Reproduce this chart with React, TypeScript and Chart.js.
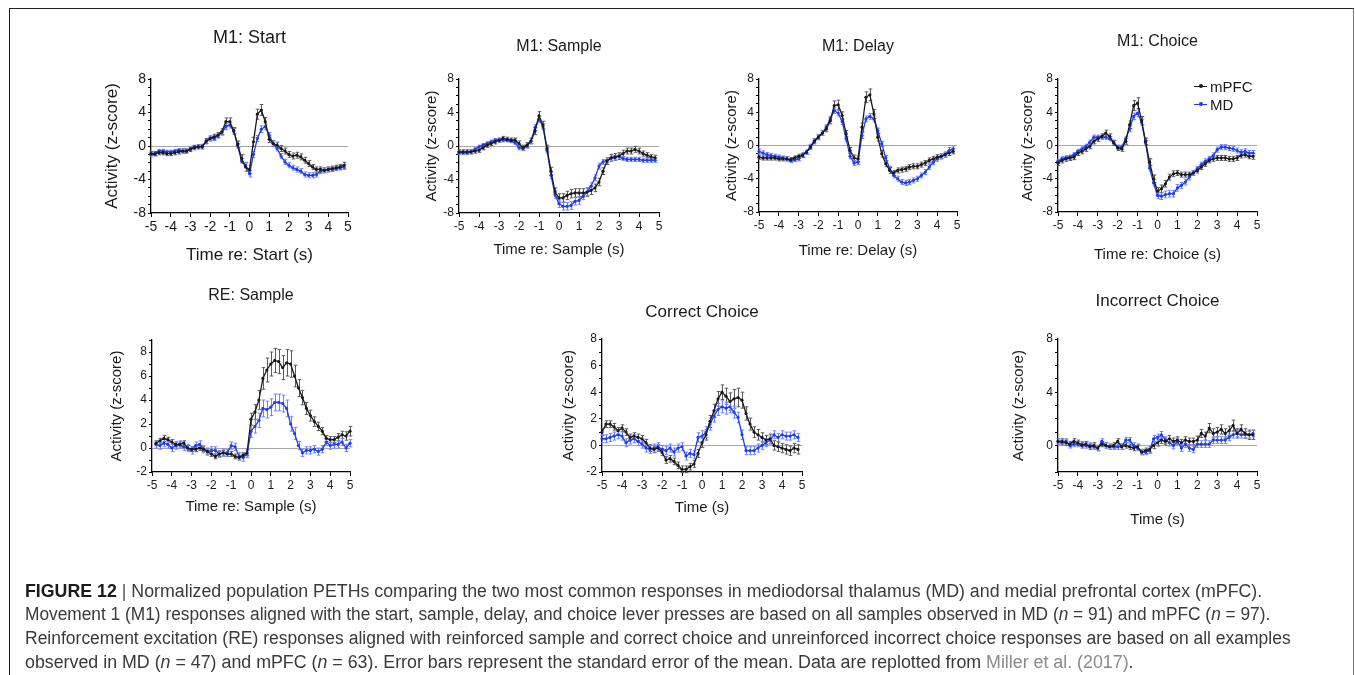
import React, { useEffect, useLayoutEffect, useRef } from "react";
import { Chart, registerables } from "chart.js";
Chart.register(...registerables);

const FONT = "'Liberation Sans', Arial, Helvetica, sans-serif";
const W = 1355;
const H = 675;
const MPFC_COLOR = "#1a1a1a";
const MD_COLOR = "#1f3cf2";
const MPFC_ERR = "#5a5a5a";
const MD_ERR = "#6b84ff";

// ---- time bins (s) ----
const TIME = [-5, -4.8, -4.6, -4.4, -4.2, -4, -3.8, -3.6, -3.4, -3.2, -3, -2.8, -2.6, -2.4, -2.2, -2, -1.8, -1.6, -1.4, -1.2, -1, -0.8, -0.6, -0.4, -0.2, 0, 0.2, 0.4, 0.6, 0.8, 1, 1.2, 1.4, 1.6, 1.8, 2, 2.2, 2.4, 2.6, 2.8, 3, 3.2, 3.4, 3.6, 3.8, 4, 4.2, 4.4, 4.6, 4.8];
const TIME_RE = [-4.8, -4.6, -4.4, -4.2, -4, -3.8, -3.6, -3.4, -3.2, -3, -2.8, -2.6, -2.4, -2.2, -2, -1.8, -1.6, -1.4, -1.2, -1, -0.8, -0.6, -0.4, -0.2, 0, 0.2, 0.4, 0.6, 0.8, 1, 1.2, 1.4, 1.6, 1.8, 2, 2.2, 2.4, 2.6, 2.8, 3, 3.2, 3.4, 3.6, 3.8, 4, 4.2, 4.4, 4.6, 4.8, 5];

// ---- M1: Start ----
const START_MPFC = [-0.9, -0.9, -0.8, -0.8, -0.9, -0.9, -0.8, -0.7, -0.6, -0.6, -0.4, -0.2, -0.1, -0.1, 0.6, 0.9, 1.1, 1.3, 1.7, 2.9, 2.9, 1.8, 0.2, -1.5, -2.5, -2.8, 0.5, 3.8, 4.3, 2.9, 0.8, 0.3, 0.1, -0.3, -0.6, -1.0, -1.2, -1.1, -1.3, -1.7, -2.1, -2.5, -2.8, -2.8, -2.9, -2.8, -2.7, -2.6, -2.5, -2.3];
const START_MD = [-1.0, -1.0, -0.6, -0.6, -0.7, -0.7, -0.6, -0.5, -0.6, -0.6, -0.3, -0.1, -0.1, 0.0, 0.5, 0.9, 0.9, 1.2, 1.6, 2.3, 2.5, 1.8, 0.0, -1.8, -2.3, -3.3, -1.0, 0.9, 2.0, 2.3, 1.3, 0.3, -0.3, -1.2, -1.9, -2.3, -2.6, -2.8, -3.0, -3.4, -3.5, -3.5, -3.4, -3.0, -2.9, -2.8, -2.8, -2.7, -2.6, -2.5];
const START_MPFC_SEM = [0.25, 0.25, 0.25, 0.25, 0.25, 0.25, 0.25, 0.25, 0.25, 0.25, 0.25, 0.25, 0.25, 0.25, 0.3, 0.3, 0.3, 0.3, 0.35, 0.45, 0.45, 0.4, 0.4, 0.45, 0.5, 0.5, 0.55, 0.6, 0.65, 0.5, 0.4, 0.35, 0.35, 0.35, 0.35, 0.35, 0.35, 0.35, 0.35, 0.35, 0.35, 0.3, 0.3, 0.3, 0.3, 0.3, 0.3, 0.3, 0.3, 0.35];
const START_MD_SEM = [0.2, 0.2, 0.2, 0.2, 0.2, 0.2, 0.2, 0.2, 0.2, 0.2, 0.2, 0.2, 0.2, 0.2, 0.25, 0.25, 0.25, 0.25, 0.3, 0.35, 0.35, 0.3, 0.3, 0.3, 0.35, 0.4, 0.35, 0.35, 0.4, 0.35, 0.3, 0.3, 0.3, 0.3, 0.3, 0.3, 0.3, 0.3, 0.3, 0.3, 0.3, 0.3, 0.3, 0.3, 0.25, 0.25, 0.25, 0.25, 0.25, 0.3];

// ---- M1: Sample ----
const SAMPLE_MPFC = [-0.7, -0.7, -0.7, -0.7, -0.6, -0.5, -0.2, 0.1, 0.3, 0.5, 0.7, 0.9, 0.8, 0.7, 0.7, 0.3, -0.2, 0.1, 0.6, 1.8, 3.6, 2.5, -0.3, -3.0, -5.5, -6.2, -6.2, -5.9, -5.7, -5.6, -5.6, -5.6, -5.5, -5.3, -5.0, -4.3, -3.0, -1.8, -1.4, -1.3, -1.2, -0.9, -0.6, -0.6, -0.4, -0.6, -0.9, -1.1, -1.3, -1.4];
const SAMPLE_MD = [-0.8, -0.8, -0.8, -0.7, -0.4, -0.1, 0.1, 0.3, 0.5, 0.7, 0.7, 0.7, 0.7, 0.6, 0.4, -0.2, -0.3, 0.0, 0.6, 2.2, 3.2, 2.3, -0.5, -3.5, -5.8, -6.9, -7.2, -7.2, -7.1, -6.6, -6.5, -6.0, -5.5, -4.8, -3.8, -2.4, -1.9, -1.7, -1.5, -1.4, -1.2, -1.5, -1.6, -1.6, -1.6, -1.6, -1.7, -1.7, -1.7, -1.7];
const SAMPLE_MPFC_SEM = [0.25, 0.25, 0.25, 0.25, 0.25, 0.25, 0.25, 0.25, 0.25, 0.25, 0.25, 0.25, 0.25, 0.25, 0.25, 0.3, 0.3, 0.3, 0.35, 0.45, 0.5, 0.45, 0.4, 0.45, 0.5, 0.5, 0.5, 0.5, 0.5, 0.5, 0.5, 0.5, 0.5, 0.5, 0.45, 0.45, 0.4, 0.4, 0.4, 0.4, 0.4, 0.4, 0.35, 0.35, 0.35, 0.35, 0.3, 0.3, 0.3, 0.3];
const SAMPLE_MD_SEM = [0.2, 0.2, 0.2, 0.2, 0.2, 0.2, 0.2, 0.2, 0.2, 0.2, 0.2, 0.2, 0.2, 0.2, 0.2, 0.25, 0.25, 0.25, 0.3, 0.35, 0.35, 0.35, 0.35, 0.4, 0.45, 0.45, 0.45, 0.45, 0.45, 0.45, 0.45, 0.4, 0.4, 0.4, 0.35, 0.35, 0.3, 0.3, 0.3, 0.25, 0.25, 0.25, 0.25, 0.25, 0.25, 0.25, 0.25, 0.25, 0.25, 0.25];

// ---- M1: Delay ----
const DELAY_MPFC = [-1.4, -1.5, -1.5, -1.5, -1.5, -1.6, -1.6, -1.6, -1.7, -1.5, -1.3, -1.2, -0.8, -0.2, 0.5, 1.0, 1.5, 2.0, 3.0, 4.8, 4.9, 3.6, 1.4, -0.6, -1.5, -1.6, 2.2, 5.8, 6.1, 3.8, 1.0, -1.0, -2.2, -3.0, -3.3, -3.0, -2.9, -2.8, -2.6, -2.5, -2.5, -2.3, -2.1, -1.8, -1.6, -1.4, -1.3, -1.1, -0.9, -0.7];
const DELAY_MD = [-0.7, -0.9, -1.1, -1.2, -1.3, -1.4, -1.5, -1.6, -1.8, -1.7, -1.6, -1.1, -0.8, -0.1, 0.6, 1.0, 1.5, 2.2, 3.2, 4.2, 3.9, 2.9, 0.8, -1.3, -2.1, -2.0, 1.2, 3.2, 3.5, 3.2, 1.8, 0.2, -1.5, -2.8, -3.6, -4.0, -4.4, -4.5, -4.4, -4.2, -4.0, -3.6, -3.2, -2.6, -2.0, -1.6, -1.3, -1.1, -0.6, -0.4];
const DELAY_MPFC_SEM = [0.25, 0.25, 0.25, 0.25, 0.25, 0.25, 0.25, 0.25, 0.25, 0.25, 0.25, 0.25, 0.25, 0.25, 0.3, 0.3, 0.3, 0.35, 0.4, 0.55, 0.55, 0.45, 0.4, 0.35, 0.35, 0.35, 0.5, 0.65, 0.7, 0.55, 0.45, 0.4, 0.35, 0.35, 0.3, 0.3, 0.3, 0.3, 0.3, 0.3, 0.3, 0.3, 0.3, 0.3, 0.3, 0.3, 0.3, 0.3, 0.3, 0.3];
const DELAY_MD_SEM = [0.3, 0.25, 0.25, 0.25, 0.25, 0.25, 0.25, 0.25, 0.25, 0.25, 0.25, 0.25, 0.25, 0.25, 0.25, 0.25, 0.3, 0.3, 0.3, 0.35, 0.35, 0.35, 0.3, 0.3, 0.3, 0.3, 0.35, 0.35, 0.35, 0.35, 0.3, 0.3, 0.3, 0.3, 0.3, 0.3, 0.3, 0.3, 0.3, 0.3, 0.3, 0.3, 0.3, 0.3, 0.3, 0.3, 0.3, 0.3, 0.35, 0.35];

// ---- M1: Choice ----
const CHOICE_MPFC = [-2.1, -1.8, -1.6, -1.5, -1.4, -0.9, -0.7, -0.4, -0.1, 0.5, 0.8, 1.1, 1.5, 1.1, 0.3, -0.3, -0.4, 0.5, 2.5, 4.8, 5.1, 3.0, 0.5, -2.0, -4.0, -5.5, -5.2, -4.6, -3.8, -3.4, -3.3, -3.5, -3.5, -3.5, -3.3, -3.0, -2.6, -2.2, -1.8, -1.6, -1.5, -1.5, -1.5, -1.6, -1.6, -1.5, -1.2, -1.1, -1.3, -1.3];
const CHOICE_MD = [-1.9, -1.6, -1.5, -1.4, -1.1, -0.7, -0.4, -0.1, 0.4, 1.0, 1.0, 1.0, 1.0, 0.8, 0.4, -0.2, -0.2, 0.8, 2.0, 3.5, 3.9, 2.8, 0.3, -2.7, -4.5, -6.0, -6.1, -5.9, -5.8, -5.8, -5.1, -4.8, -4.4, -3.8, -3.3, -2.8, -2.3, -1.9, -1.6, -1.2, -0.5, -0.2, -0.2, -0.3, -0.4, -0.6, -0.8, -0.7, -0.9, -0.9];
const CHOICE_MPFC_SEM = [0.3, 0.3, 0.3, 0.3, 0.3, 0.3, 0.3, 0.3, 0.3, 0.3, 0.3, 0.3, 0.35, 0.3, 0.3, 0.3, 0.3, 0.35, 0.45, 0.6, 0.65, 0.5, 0.4, 0.4, 0.45, 0.45, 0.45, 0.4, 0.35, 0.35, 0.3, 0.3, 0.3, 0.3, 0.3, 0.3, 0.3, 0.3, 0.3, 0.3, 0.3, 0.3, 0.3, 0.3, 0.3, 0.3, 0.3, 0.3, 0.3, 0.35];
const CHOICE_MD_SEM = [0.25, 0.25, 0.25, 0.25, 0.25, 0.25, 0.25, 0.25, 0.25, 0.25, 0.25, 0.25, 0.25, 0.25, 0.25, 0.25, 0.25, 0.3, 0.35, 0.4, 0.4, 0.35, 0.3, 0.35, 0.4, 0.4, 0.4, 0.4, 0.4, 0.4, 0.4, 0.35, 0.35, 0.35, 0.3, 0.3, 0.3, 0.3, 0.3, 0.3, 0.3, 0.3, 0.3, 0.3, 0.3, 0.3, 0.3, 0.3, 0.3, 0.3];

// ---- RE: Sample ----
const RE_MPFC = [0.4, 0.6, 0.8, 0.7, 0.5, 0.3, 0.3, 0.4, 0.0, -0.1, -0.1, 0.0, -0.1, -0.3, -0.5, -0.7, -0.5, -0.4, -0.5, -0.5, -0.7, -0.8, -0.6, -0.4, 2.4, 3.0, 4.0, 5.8, 6.5, 7.0, 7.3, 7.2, 6.7, 7.1, 7.0, 6.0, 5.0, 4.2, 3.3, 2.7, 2.2, 1.8, 1.4, 0.8, 0.7, 0.7, 0.9, 1.1, 1.0, 1.4];
const RE_MD = [0.3, 0.2, 0.4, 0.3, 0.0, 0.2, 0.3, 0.1, 0.0, -0.2, 0.2, 0.3, -0.1, -0.3, -0.2, -0.2, -0.5, -0.4, -0.4, 0.2, 0.1, -0.7, -0.8, -0.5, 1.4, 1.8, 2.3, 3.3, 3.2, 3.4, 3.8, 3.8, 3.7, 3.3, 2.0, 1.2, 0.2, -0.4, -0.2, -0.2, -0.1, -0.3, -0.1, 0.5, 0.2, 0.3, 0.3, 0.5, 0.0, 0.4];
const RE_MPFC_SEM = [0.2, 0.2, 0.25, 0.2, 0.2, 0.2, 0.2, 0.2, 0.2, 0.2, 0.2, 0.2, 0.2, 0.2, 0.2, 0.2, 0.2, 0.2, 0.2, 0.2, 0.2, 0.2, 0.2, 0.25, 0.5, 0.6, 0.8, 0.9, 1.0, 1.0, 1.0, 1.0, 1.0, 1.1, 1.1, 0.9, 0.7, 0.6, 0.5, 0.45, 0.4, 0.35, 0.3, 0.25, 0.25, 0.25, 0.3, 0.3, 0.35, 0.4];
const RE_MD_SEM = [0.3, 0.3, 0.3, 0.3, 0.3, 0.3, 0.3, 0.3, 0.3, 0.3, 0.3, 0.3, 0.3, 0.3, 0.3, 0.3, 0.3, 0.3, 0.3, 0.3, 0.3, 0.3, 0.3, 0.3, 0.5, 0.55, 0.6, 0.7, 0.7, 0.7, 0.7, 0.7, 0.7, 0.7, 0.6, 0.5, 0.35, 0.3, 0.3, 0.3, 0.3, 0.3, 0.3, 0.3, 0.3, 0.3, 0.3, 0.3, 0.3, 0.3];

// ---- Correct Choice ----
const CORRECT_MPFC = [1.0, 1.6, 1.6, 1.4, 1.1, 1.3, 1.0, 0.6, 0.7, 0.6, 0.5, 0.2, -0.2, -0.3, -0.2, -0.5, -1.1, -1.0, -1.2, -1.5, -1.8, -1.8, -1.6, -1.4, -0.6, 0.2, 0.8, 1.8, 2.6, 3.5, 4.0, 3.7, 3.3, 3.5, 3.6, 3.4, 2.4, 1.6, 1.0, 0.8, 0.6, 0.4, 0.5, 0.0, -0.1, -0.2, -0.3, -0.4, -0.2, -0.3];
const CORRECT_MD = [0.5, 0.5, 0.6, 0.7, 0.8, 0.7, 0.2, 0.4, 0.5, 0.3, 0.1, -0.2, -0.3, -0.2, -0.1, -0.3, -0.4, -0.2, -0.5, -0.2, -0.1, -0.8, -0.6, -0.7, 0.6, 0.7, 1.0, 1.6, 2.2, 2.7, 2.9, 2.8, 2.9, 2.5, 2.1, 0.8, -0.4, -0.4, -0.4, -0.2, 0.0, 0.2, 0.4, 0.8, 0.6, 0.8, 0.7, 0.7, 0.8, 0.6];
const CORRECT_MPFC_SEM = [0.25, 0.25, 0.25, 0.25, 0.25, 0.25, 0.25, 0.25, 0.25, 0.25, 0.25, 0.25, 0.25, 0.25, 0.25, 0.25, 0.25, 0.25, 0.25, 0.25, 0.25, 0.25, 0.25, 0.25, 0.3, 0.35, 0.4, 0.45, 0.5, 0.55, 0.55, 0.6, 0.65, 0.7, 0.7, 0.6, 0.5, 0.45, 0.4, 0.4, 0.35, 0.35, 0.35, 0.35, 0.35, 0.35, 0.35, 0.35, 0.35, 0.35];
const CORRECT_MD_SEM = [0.3, 0.3, 0.3, 0.3, 0.3, 0.3, 0.3, 0.3, 0.3, 0.3, 0.3, 0.3, 0.3, 0.3, 0.3, 0.3, 0.3, 0.3, 0.3, 0.3, 0.3, 0.3, 0.3, 0.3, 0.35, 0.4, 0.4, 0.45, 0.45, 0.45, 0.45, 0.45, 0.45, 0.45, 0.4, 0.35, 0.3, 0.3, 0.3, 0.3, 0.3, 0.3, 0.3, 0.3, 0.3, 0.3, 0.3, 0.3, 0.3, 0.3];

// ---- Incorrect Choice ----
const INCORRECT_MPFC = [0.3, 0.3, 0.2, 0.1, 0.3, 0.2, 0.0, 0.1, -0.1, 0.0, -0.2, 0.1, 0.0, -0.1, 0.0, 0.3, -0.1, 0.0, -0.1, -0.2, -0.1, -0.5, -0.4, -0.3, 0.0, 0.2, 0.4, 0.3, 0.5, 0.3, 0.4, 0.2, 0.4, 0.3, 0.3, 0.4, 0.9, 0.7, 1.3, 0.9, 1.0, 1.2, 0.9, 1.1, 1.5, 0.9, 1.2, 0.9, 0.8, 0.8];
const INCORRECT_MD = [0.3, 0.2, 0.3, 0.0, 0.1, 0.1, 0.1, 0.0, 0.0, -0.1, -0.2, 0.3, 0.0, -0.1, -0.1, -0.1, -0.1, 0.4, 0.4, 0.0, -0.2, -0.5, -0.5, -0.4, 0.5, 0.6, 0.8, 0.4, 0.2, 0.0, 0.3, -0.2, 0.1, -0.2, -0.3, 0.1, 0.1, 0.1, 0.1, 0.4, 0.4, 0.4, 0.4, 0.6, 0.8, 0.9, 0.8, 0.8, 0.8, 0.9];
const INCORRECT_MPFC_SEM = [0.2, 0.2, 0.2, 0.2, 0.2, 0.2, 0.2, 0.2, 0.2, 0.2, 0.2, 0.2, 0.2, 0.2, 0.2, 0.2, 0.2, 0.2, 0.2, 0.2, 0.2, 0.2, 0.2, 0.2, 0.25, 0.25, 0.25, 0.25, 0.25, 0.25, 0.25, 0.25, 0.25, 0.25, 0.25, 0.3, 0.3, 0.3, 0.35, 0.35, 0.35, 0.35, 0.35, 0.35, 0.4, 0.35, 0.35, 0.35, 0.35, 0.35];
const INCORRECT_MD_SEM = [0.2, 0.2, 0.2, 0.2, 0.2, 0.2, 0.2, 0.2, 0.2, 0.2, 0.2, 0.2, 0.2, 0.2, 0.2, 0.2, 0.2, 0.2, 0.2, 0.2, 0.2, 0.2, 0.2, 0.2, 0.25, 0.25, 0.25, 0.25, 0.25, 0.25, 0.25, 0.25, 0.25, 0.25, 0.25, 0.25, 0.25, 0.25, 0.25, 0.25, 0.25, 0.25, 0.25, 0.25, 0.25, 0.25, 0.25, 0.25, 0.25, 0.25];

const SERIES_NAMES = ["mPFC", "MD"];

type Panel = {
  title: string; xTitle: string; time: number[];
  mpfc: number[]; md: number[]; mpfcErr: number[]; mdErr: number[];
  yMin: number; yMax: number; labelEvery: number; labelMax: number;
  L: number; R: number; T: number; B: number;
  titleY: number; xTitleY: number; yTitleX: number;
  titleSize: number; axisSize: number; tickSize: number;
};

const PANELS: Panel[] = [
  { title: "M1: Start", xTitle: "Time re: Start (s)", time: TIME, mpfc: START_MPFC, md: START_MD, mpfcErr: START_MPFC_SEM, mdErr: START_MD_SEM, yMin: -8, yMax: 8, labelEvery: 4, labelMax: 8, L: 151, R: 348, T: 79, B: 213, titleY: 38, xTitleY: 255, yTitleX: 112, titleSize: 18, axisSize: 17, tickSize: 14 },
  { title: "M1: Sample", xTitle: "Time re: Sample (s)", time: TIME, mpfc: SAMPLE_MPFC, md: SAMPLE_MD, mpfcErr: SAMPLE_MPFC_SEM, mdErr: SAMPLE_MD_SEM, yMin: -8, yMax: 8, labelEvery: 4, labelMax: 8, L: 459, R: 659, T: 79, B: 213, titleY: 47, xTitleY: 250, yTitleX: 432, titleSize: 16, axisSize: 15, tickSize: 12 },
  { title: "M1: Delay", xTitle: "Time re: Delay (s)", time: TIME, mpfc: DELAY_MPFC, md: DELAY_MD, mpfcErr: DELAY_MPFC_SEM, mdErr: DELAY_MD_SEM, yMin: -8, yMax: 8, labelEvery: 4, labelMax: 8, L: 759, R: 957, T: 79, B: 212, titleY: 47, xTitleY: 251, yTitleX: 732, titleSize: 16, axisSize: 15, tickSize: 12 },
  { title: "M1: Choice", xTitle: "Time re: Choice (s)", time: TIME, mpfc: CHOICE_MPFC, md: CHOICE_MD, mpfcErr: CHOICE_MPFC_SEM, mdErr: CHOICE_MD_SEM, yMin: -8, yMax: 8, labelEvery: 4, labelMax: 8, L: 1058, R: 1257, T: 79, B: 212, titleY: 42, xTitleY: 255, yTitleX: 1028, titleSize: 16, axisSize: 15, tickSize: 12 },
  { title: "RE: Sample", xTitle: "Time re: Sample (s)", time: TIME_RE, mpfc: RE_MPFC, md: RE_MD, mpfcErr: RE_MPFC_SEM, mdErr: RE_MD_SEM, yMin: -2, yMax: 9, labelEvery: 2, labelMax: 8, L: 152, R: 350, T: 340, B: 472, titleY: 296, xTitleY: 507, yTitleX: 117, titleSize: 16, axisSize: 15, tickSize: 12 },
  { title: "Correct Choice", xTitle: "Time (s)", time: TIME, mpfc: CORRECT_MPFC, md: CORRECT_MD, mpfcErr: CORRECT_MPFC_SEM, mdErr: CORRECT_MD_SEM, yMin: -2, yMax: 8, labelEvery: 2, labelMax: 8, L: 602, R: 802, T: 339, B: 472, titleY: 312, xTitleY: 508, yTitleX: 569, titleSize: 17, axisSize: 15, tickSize: 12 },
  { title: "Incorrect Choice", xTitle: "Time (s)", time: TIME, mpfc: INCORRECT_MPFC, md: INCORRECT_MD, mpfcErr: INCORRECT_MPFC_SEM, mdErr: INCORRECT_MD_SEM, yMin: -2, yMax: 8, labelEvery: 4, labelMax: 8, L: 1058, R: 1257, T: 339, B: 472, titleY: 301, xTitleY: 520, yTitleX: 1019, titleSize: 17, axisSize: 15, tickSize: 12 },
];

const errorBars = {
  id: "errorBars",
  beforeDatasetsDraw(chart: any) {
    const ctx = chart.ctx;
    const yScale = chart.scales.y;
    chart.data.datasets.forEach((ds: any, i: number) => {
      const errs: number[] = ds.errors;
      if (!errs) return;
      const meta = chart.getDatasetMeta(i);
      ctx.save();
      ctx.strokeStyle = ds.errorColor;
      ctx.lineWidth = 1;
      meta.data.forEach((pt: any, j: number) => {
        const v = ds.data[j].y;
        const e = errs[j];
        const x = Math.round(pt.x) + 0.5;
        const y1 = yScale.getPixelForValue(v - e);
        const y2 = yScale.getPixelForValue(v + e);
        ctx.beginPath();
        ctx.moveTo(x, y1); ctx.lineTo(x, y2);
        ctx.moveTo(x - 1.8, y1); ctx.lineTo(x + 1.8, y1);
        ctx.moveTo(x - 1.8, y2); ctx.lineTo(x + 1.8, y2);
        ctx.stroke();
      });
      ctx.restore();
    });
  },
};

function PanelChart({ p }: { p: Panel }) {
  const ref = useRef<HTMLCanvasElement>(null);
  useEffect(() => {
    const c = ref.current;
    if (!c) return;
    const padL = p.yTitleX - 0.6 * p.axisSize;
    const yWidth = p.L - padL;
    const padT = p.titleY - 0.6 * p.titleSize;
    const titleBottom = p.T - padT - 1.2 * p.titleSize;
    const xHeight = p.xTitleY + 0.6 * p.axisSize - p.B;
    const padB = H - p.B - xHeight;
    const padR = W - p.R;
    const mk = (vals: number[]) => p.time.map((t, i) => ({ x: t, y: vals[i] }));
    const chart = new Chart(c, {
      type: "line",
      data: {
        datasets: [
          { label: SERIES_NAMES[0], data: mk(p.mpfc), errors: p.mpfcErr, errorColor: MPFC_ERR, borderColor: MPFC_COLOR, backgroundColor: MPFC_COLOR, borderWidth: 1.3, pointRadius: 1.6, pointBorderWidth: 0, tension: 0, clip: false } as any,
          { label: SERIES_NAMES[1], data: mk(p.md), errors: p.mdErr, errorColor: MD_ERR, borderColor: MD_COLOR, backgroundColor: MD_COLOR, borderWidth: 1.3, pointRadius: 1.6, pointBorderWidth: 0, tension: 0, clip: false } as any,
        ],
      },
      options: {
        animation: false,
        responsive: false,
        events: [],
        layout: { padding: { left: padL, top: padT, right: padR, bottom: padB } },
        plugins: {
          legend: { display: false },
          tooltip: { enabled: false },
          title: {
            display: true, text: p.title, fullSize: false, color: "#1a1a1a",
            font: { family: FONT, size: p.titleSize, weight: "normal" },
            padding: { top: 0, bottom: titleBottom },
          },
        },
        scales: {
          x: {
            type: "linear", min: -5, max: 5,
            afterFit: (s: any) => { s.height = xHeight; },
            ticks: { stepSize: 1, autoSkip: false, maxRotation: 0, padding: 2, color: "#1a1a1a", font: { family: FONT, size: p.tickSize } },
            grid: { drawOnChartArea: false, tickLength: 4, tickColor: "#000", tickWidth: 1 },
            border: { display: true, color: "#000", width: 1.3 },
            title: { display: true, text: p.xTitle, color: "#1a1a1a", padding: 0, font: { family: FONT, size: p.axisSize } },
          },
          y: {
            type: "linear", min: p.yMin, max: p.yMax,
            afterFit: (s: any) => { s.width = yWidth; },
            ticks: {
              stepSize: 1, autoSkip: false, padding: 2, color: "#1a1a1a", font: { family: FONT, size: p.tickSize },
              callback: (v: any) => (Number(v) % p.labelEvery === 0 && Number(v) <= p.labelMax ? String(v) : ""),
            },
            grid: {
              drawOnChartArea: true, tickLength: 3, tickColor: "#000", tickWidth: 1, lineWidth: 1,
              color: (ctx: any) => (ctx.tick && ctx.tick.value === 0 ? "#a8a8a8" : "rgba(0,0,0,0)"),
            },
            border: { display: true, color: "#000", width: 1.3 },
            title: { display: true, text: "Activity (z-score)", color: "#1a1a1a", padding: 0, font: { family: FONT, size: p.axisSize } },
          },
        },
      } as any,
      plugins: [errorBars],
    });
    return () => chart.destroy();
  }, []);
  return <canvas ref={ref} width={W} height={H} style={{ position: "absolute", left: 0, top: 0 }} />;
}

const CAPTION_LEFT = 25;
const CAPTION_RIGHTS = [1262, 1270, 1291, 1134];

function Caption() {
  const refs = [useRef<HTMLSpanElement>(null), useRef<HTMLSpanElement>(null), useRef<HTMLSpanElement>(null), useRef<HTMLSpanElement>(null)];
  useLayoutEffect(() => {
    refs.forEach((r, i) => {
      const el = r.current;
      if (!el) return;
      const w = el.offsetWidth;
      const target = CAPTION_RIGHTS[i] - CAPTION_LEFT;
      el.style.transform = `scaleX(${target / w})`;
    });
  }, []);
  const lineStyle: React.CSSProperties = { display: "inline-block", whiteSpace: "nowrap", transformOrigin: "0 0" };
  const grey = { color: "#8a8a8a" };
  return (
    <div style={{ position: "absolute", left: CAPTION_LEFT, top: 579.5, fontFamily: FONT, fontSize: 18, lineHeight: "23.7px", color: "#3a3a3a" }}>
      <div><span ref={refs[0]} style={lineStyle}><b style={{ color: "#1a1a1a" }}>FIGURE 12</b> <span style={{ color: "#555" }}>|</span> Normalized population PETHs comparing the two most common responses in mediodorsal thalamus (MD) and medial prefrontal cortex (mPFC).</span></div>
      <div><span ref={refs[1]} style={lineStyle}>Movement 1 (M1) responses aligned with the start, sample, delay, and choice lever presses are based on all samples observed in MD (<i>n</i> = 91) and mPFC (<i>n</i> = 97).</span></div>
      <div><span ref={refs[2]} style={lineStyle}>Reinforcement excitation (RE) responses aligned with reinforced sample and correct choice and unreinforced incorrect choice responses are based on all examples</span></div>
      <div><span ref={refs[3]} style={lineStyle}>observed in MD (<i>n</i> = 47) and mPFC (<i>n</i> = 63). Error bars represent the standard error of the mean. Data are replotted from <span style={grey}>Miller et al. (2017)</span>.</span></div>
    </div>
  );
}

function Legend() {
  const rows = [
    { name: SERIES_NAMES[0], color: MPFC_COLOR, y: 86 },
    { name: SERIES_NAMES[1], color: MD_COLOR, y: 104 },
  ];
  return (
    <>
      {rows.map((r) => (
        <div key={r.name} style={{ position: "absolute", left: 1194, top: r.y - 9, height: 18, display: "flex", alignItems: "center", fontFamily: FONT, fontSize: 15, color: "#1a1a1a" }}>
          <span style={{ position: "relative", width: 13, height: 18, marginRight: 3 }}>
            <span style={{ position: "absolute", left: 0, top: 8.5, width: 13, height: 1.3, background: r.color }} />
            <span style={{ position: "absolute", left: 5, top: 7, width: 4, height: 4, borderRadius: 2, background: r.color }} />
          </span>
          <span>{r.name}</span>
        </div>
      ))}
    </>
  );
}

export default function App() {
  return (
    <div style={{ position: "fixed", left: 0, top: 0, width: W, height: H, overflow: "hidden", background: "#fff" }}>
      <div style={{ position: "absolute", left: 9, top: 8, width: 1345, height: 720, boxSizing: "border-box", borderTop: "1px solid #222", borderLeft: "1px solid #222", borderRight: "1px solid #777", borderBottom: "1px solid #777" }} />
      {PANELS.map((p, i) => (
        <PanelChart key={i} p={p} />
      ))}
      <Legend />
      <Caption />
    </div>
  );
}
